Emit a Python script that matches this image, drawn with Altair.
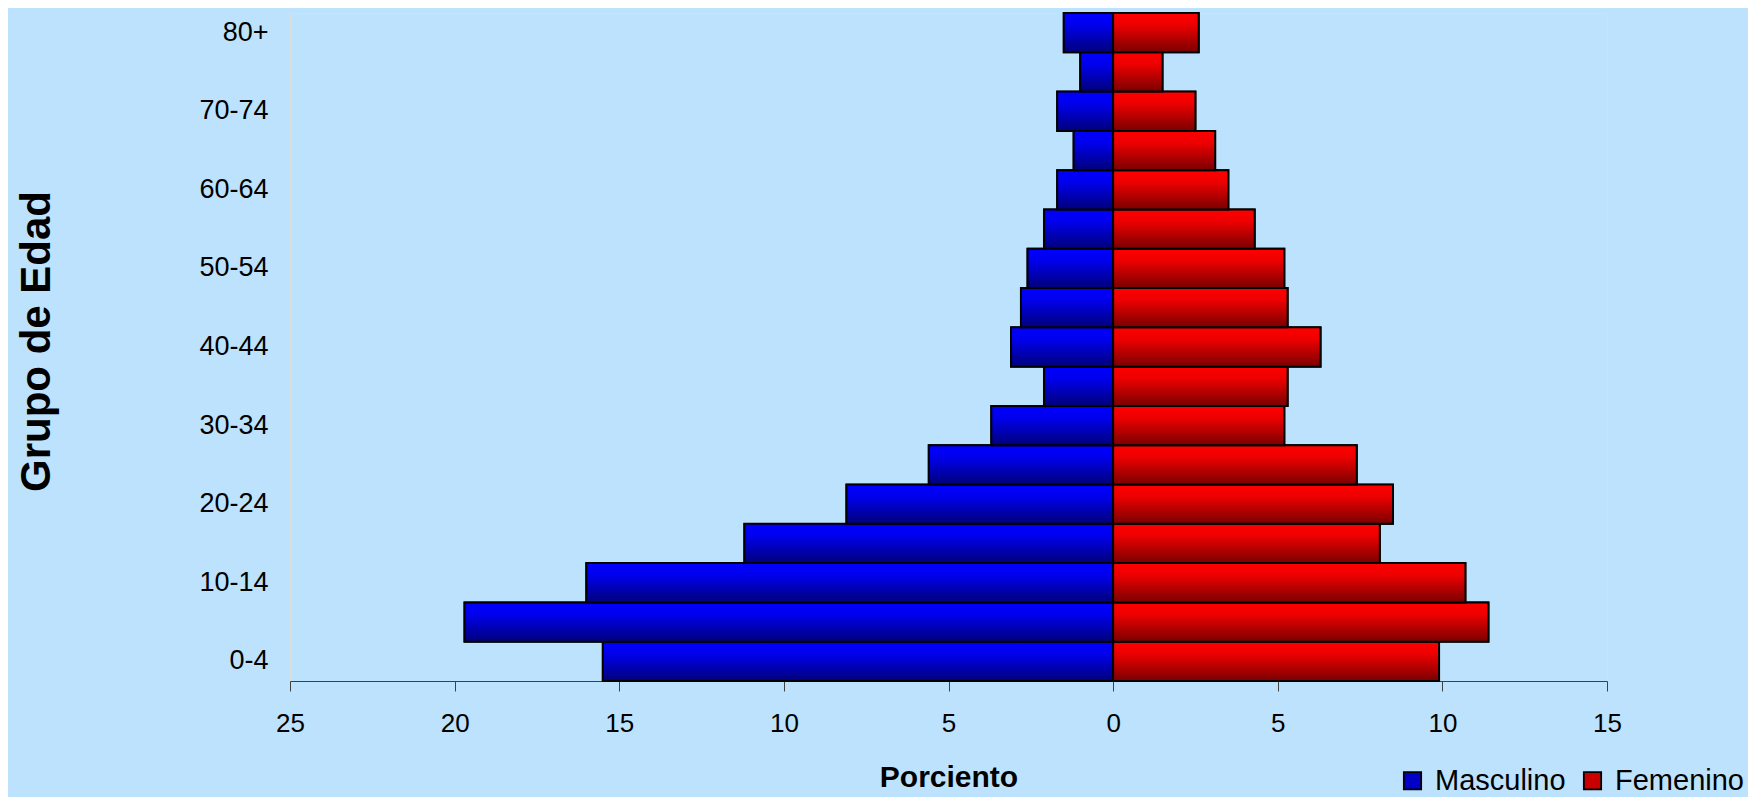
import altair as alt
import pandas as pd

# Age groups from bottom (youngest) to top (oldest)
age_groups = ["0-4", "5-9", "10-14", "15-19", "20-24", "25-29", "30-34", "35-39",
              "40-44", "45-49", "50-54", "55-59", "60-64", "65-69", "70-74", "75-79", "80+"]
masculino = [15.5, 19.7, 16.0, 11.2, 8.1, 5.6, 3.7, 2.1, 3.1, 2.8, 2.6, 2.1, 1.7, 1.2, 1.7, 1.0, 1.5]
femenino = [9.9, 11.4, 10.7, 8.1, 8.5, 7.4, 5.2, 5.3, 6.3, 5.3, 5.2, 4.3, 3.5, 3.1, 2.5, 1.5, 2.6]
labeled_groups = ["0-4", "10-14", "20-24", "30-34", "40-44", "50-54", "60-64", "70-74", "80+"]
x_ticks = [-25, -20, -15, -10, -5, 0, 5, 10, 15]
sexes = ["Masculino", "Femenino"]

rows = []
for g, m, f in zip(age_groups, masculino, femenino):
    rows.append({"grupo": g, "sexo": "Masculino", "valor": -m})
    rows.append({"grupo": g, "sexo": "Femenino", "valor": f})
df = pd.DataFrame(rows)

FONT = "Liberation Sans"

x_enc = alt.X(
    "valor:Q",
    stack=None,
    scale=alt.Scale(domain=[-25, 15], nice=False, zero=False),
    axis=alt.Axis(
        values=x_ticks,
        labelExpr="abs(datum.value)",
        title="Porciento",
        grid=False,
        tickSize=10,
        domainColor="#404040",
        tickColor="#404040",
        labelFontSize=26,
        labelColor="black",
        labelPadding=19,
        labelFlush=False,
        titleFontSize=30,
        titleFontWeight="bold",
        titleColor="black",
        titlePadding=26,
    ),
)
y_enc = alt.Y(
    "grupo:N",
    sort=age_groups[::-1],
    scale=alt.Scale(paddingInner=0, paddingOuter=0),
    axis=alt.Axis(
        values=labeled_groups,
        title="Grupo de Edad",
        domain=False,
        ticks=False,
        tickSize=0,
        grid=False,
        labelFontSize=27,
        labelColor="black",
        labelPadding=22,
        titleFontSize=42,
        titleFontWeight="bold",
        titleColor="black",
        titlePadding=140,
        titleY=328,
    ),
)

base = alt.Chart(df)

legend_layer = base.mark_bar(stroke="black", strokeWidth=1.8).encode(
    x=x_enc,
    y=y_enc,
    color=alt.Color(
        "sexo:N",
        scale=alt.Scale(domain=sexes, range=["#0000C8", "#C80000"]),
        legend=alt.Legend(
            title=None,
            orient="none",
            direction="horizontal",
            legendX=1108,
            legendY=753,
            symbolType="square",
            symbolSize=300,
            symbolStrokeColor="black",
            symbolStrokeWidth=1.8,
            labelFontSize=29,
            labelColor="black",
            labelOffset=8,
            columnPadding=12,
            padding=0,
        ),
    ),
)

blue_grad = alt.LinearGradient(
    gradient="linear",
    stops=[
        alt.GradientStop(offset=0, color="#0000FF"),
        alt.GradientStop(offset=0.3, color="#0000EE"),
        alt.GradientStop(offset=1, color="#00007A"),
    ],
    x1=0, x2=0, y1=0, y2=1,
)
red_grad = alt.LinearGradient(
    gradient="linear",
    stops=[
        alt.GradientStop(offset=0, color="#FF0000"),
        alt.GradientStop(offset=0.3, color="#EE0000"),
        alt.GradientStop(offset=1, color="#7A0000"),
    ],
    x1=0, x2=0, y1=0, y2=1,
)

masc_layer = base.transform_filter(alt.datum.sexo == "Masculino").mark_bar(
    fill=blue_grad, stroke="black", strokeWidth=2
).encode(x=x_enc, y=y_enc)

fem_layer = base.transform_filter(alt.datum.sexo == "Femenino").mark_bar(
    fill=red_grad, stroke="black", strokeWidth=2
).encode(x=x_enc, y=y_enc)

chart = (
    alt.layer(legend_layer, masc_layer, fem_layer)
    .properties(
        width=1317,
        height=668,
        autosize=alt.AutoSizeParams(type="none"),
        padding={"left": 282, "top": 5, "right": 141, "bottom": 116},
        background="#BDE2FD",
    )
    .configure_view(stroke=None)
    .configure(font=FONT)
)

chart.save("out.html", embed_options={"renderer": "svg", "actions": False})
